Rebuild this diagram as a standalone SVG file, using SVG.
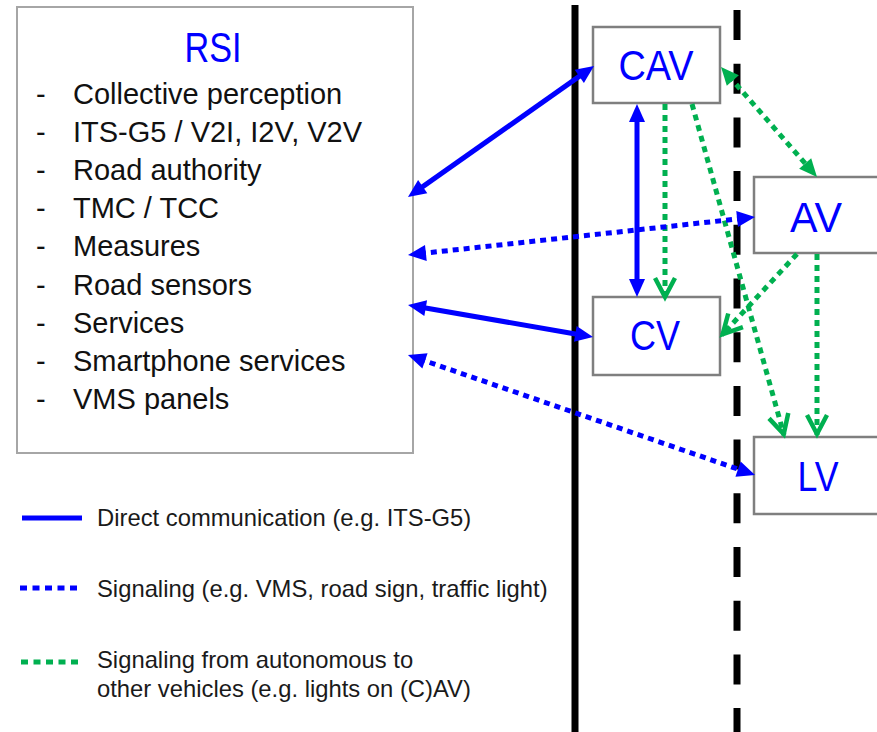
<svg xmlns="http://www.w3.org/2000/svg" width="877" height="732" viewBox="0 0 877 732">
<defs>
<style>
text{font-family:"Liberation Sans",Arial,sans-serif}
.item{font-size:29px;fill:#111}
.title{font-size:42px;fill:#0000ff;text-anchor:middle}
.leg{font-size:23.8px;fill:#1a1a1a}
.box{fill:#fff;stroke:#7f7f7f;stroke-width:2.5}
.bsolid{stroke:#0000ff;stroke-width:5;fill:none}
.bdot{stroke:#0000ff;stroke-width:5;fill:none;stroke-dasharray:6 5}
.gdot{stroke:#00b050;stroke-width:5;fill:none;stroke-dasharray:6 5}
</style>
<marker id="bt" markerUnits="userSpaceOnUse" viewBox="-20 -10 34 20" refX="-12" refY="0" markerWidth="34" markerHeight="20" orient="auto-start-reverse">
<path d="M0,0 L-18,-8 L-18,8 Z" fill="#0000ff"/>
</marker>
<marker id="gt" markerUnits="userSpaceOnUse" viewBox="-20 -10 34 20" refX="-12" refY="0" markerWidth="34" markerHeight="20" orient="auto-start-reverse">
<path d="M0,0 L-18,-8 L-18,8 Z" fill="#00b050"/>
</marker>
<marker id="gv" markerUnits="userSpaceOnUse" viewBox="-26 -14 32 28" refX="0" refY="0" markerWidth="32" markerHeight="28" orient="auto">
<path d="M-20,-10 L-1,0 L-20,10" fill="none" stroke="#00b050" stroke-width="4.5"/>
</marker>
</defs>
<rect width="877" height="732" fill="#fff"/>
<g id="road">
<line x1="575" y1="5" x2="575" y2="732" stroke="#000" stroke-width="7"/>
<line x1="737" y1="10" x2="737" y2="732" stroke="#000" stroke-width="7" stroke-dasharray="30 23.7"/>
</g>
<g id="RSI">
<rect x="17" y="7" width="396" height="446" fill="#fff" stroke="#a6a6a6" stroke-width="2"/>
<text class="title" x="213" y="62" textLength="57" lengthAdjust="spacingAndGlyphs">RSI</text>
<g class="item">
<text x="36" y="104">-</text><text x="73" y="104">Collective perception</text>
<text x="36" y="142">-</text><text x="73" y="142">ITS-G5 / V2I, I2V, V2V</text>
<text x="36" y="180">-</text><text x="73" y="180">Road authority</text>
<text x="36" y="218">-</text><text x="73" y="218">TMC / TCC</text>
<text x="36" y="256">-</text><text x="73" y="256">Measures</text>
<text x="36" y="295">-</text><text x="73" y="295">Road sensors</text>
<text x="36" y="333">-</text><text x="73" y="333">Services</text>
<text x="36" y="371">-</text><text x="73" y="371">Smartphone services</text>
<text x="36" y="409">-</text><text x="73" y="409">VMS panels</text>
</g>
</g>
<g id="CAV">
<rect class="box" x="593" y="27" width="127" height="76"/>
<text class="title" x="656" y="80" textLength="75" lengthAdjust="spacingAndGlyphs">CAV</text>
</g>
<g id="AV">
<rect class="box" x="754" y="177" width="127" height="76"/>
<text class="title" x="816" y="232" textLength="52" lengthAdjust="spacingAndGlyphs">AV</text>
</g>
<g id="CV">
<rect class="box" x="593" y="297" width="127" height="78"/>
<text class="title" x="655" y="350" textLength="50" lengthAdjust="spacingAndGlyphs">CV</text>
</g>
<g id="LV">
<rect class="box" x="754" y="437" width="127" height="77"/>
<text class="title" x="818" y="491" textLength="41" lengthAdjust="spacingAndGlyphs">LV</text>
</g>
<g id="connectors">
<line class="gdot" x1="665" y1="104" x2="665" y2="298" marker-end="url(#gv)"/>
<line class="gdot" x1="692" y1="104" x2="784" y2="435" marker-end="url(#gv)"/>
<line class="gdot" x1="797" y1="254" x2="722" y2="335" marker-end="url(#gv)"/>
<line class="gdot" x1="817" y1="254" x2="817" y2="435" marker-end="url(#gv)"/>
<line class="gdot" x1="728.9" y1="76" x2="809.1" y2="168" marker-start="url(#gt)" marker-end="url(#gt)"/>
<line class="bsolid" x1="637" y1="116" x2="637" y2="285" stroke-width="4" marker-start="url(#bt)" marker-end="url(#bt)"/>
<line class="bsolid" x1="417.8" y1="190.1" x2="584.2" y2="72.9" marker-start="url(#bt)" marker-end="url(#bt)"/>
<line class="bdot" x1="419.9" y1="253.7" x2="743.1" y2="218.3" marker-start="url(#bt)" marker-end="url(#bt)"/>
<line class="bsolid" x1="419.8" y1="307" x2="581.2" y2="335" marker-start="url(#bt)" marker-end="url(#bt)"/>
<line class="bdot" x1="419.3" y1="358.9" x2="743.7" y2="471.1" marker-start="url(#bt)" marker-end="url(#bt)"/>
</g>
<g id="legend">
<line x1="22" y1="518" x2="82" y2="518" stroke="#0000ff" stroke-width="5"/>
<text class="leg" x="97" y="526">Direct communication (e.g. ITS-G5)</text>
<line x1="20" y1="588" x2="77" y2="588" stroke="#0000ff" stroke-width="5" stroke-dasharray="7 5.5"/>
<text class="leg" x="97" y="597">Signaling (e.g. VMS, road sign, traffic light)</text>
<line x1="21" y1="662" x2="78" y2="662" stroke="#00b050" stroke-width="5" stroke-dasharray="7 5.5"/>
<text class="leg" x="97" y="668">Signaling from autonomous to</text>
<text class="leg" x="97" y="697">other vehicles (e.g. lights on (C)AV)</text>
</g>
</svg>
